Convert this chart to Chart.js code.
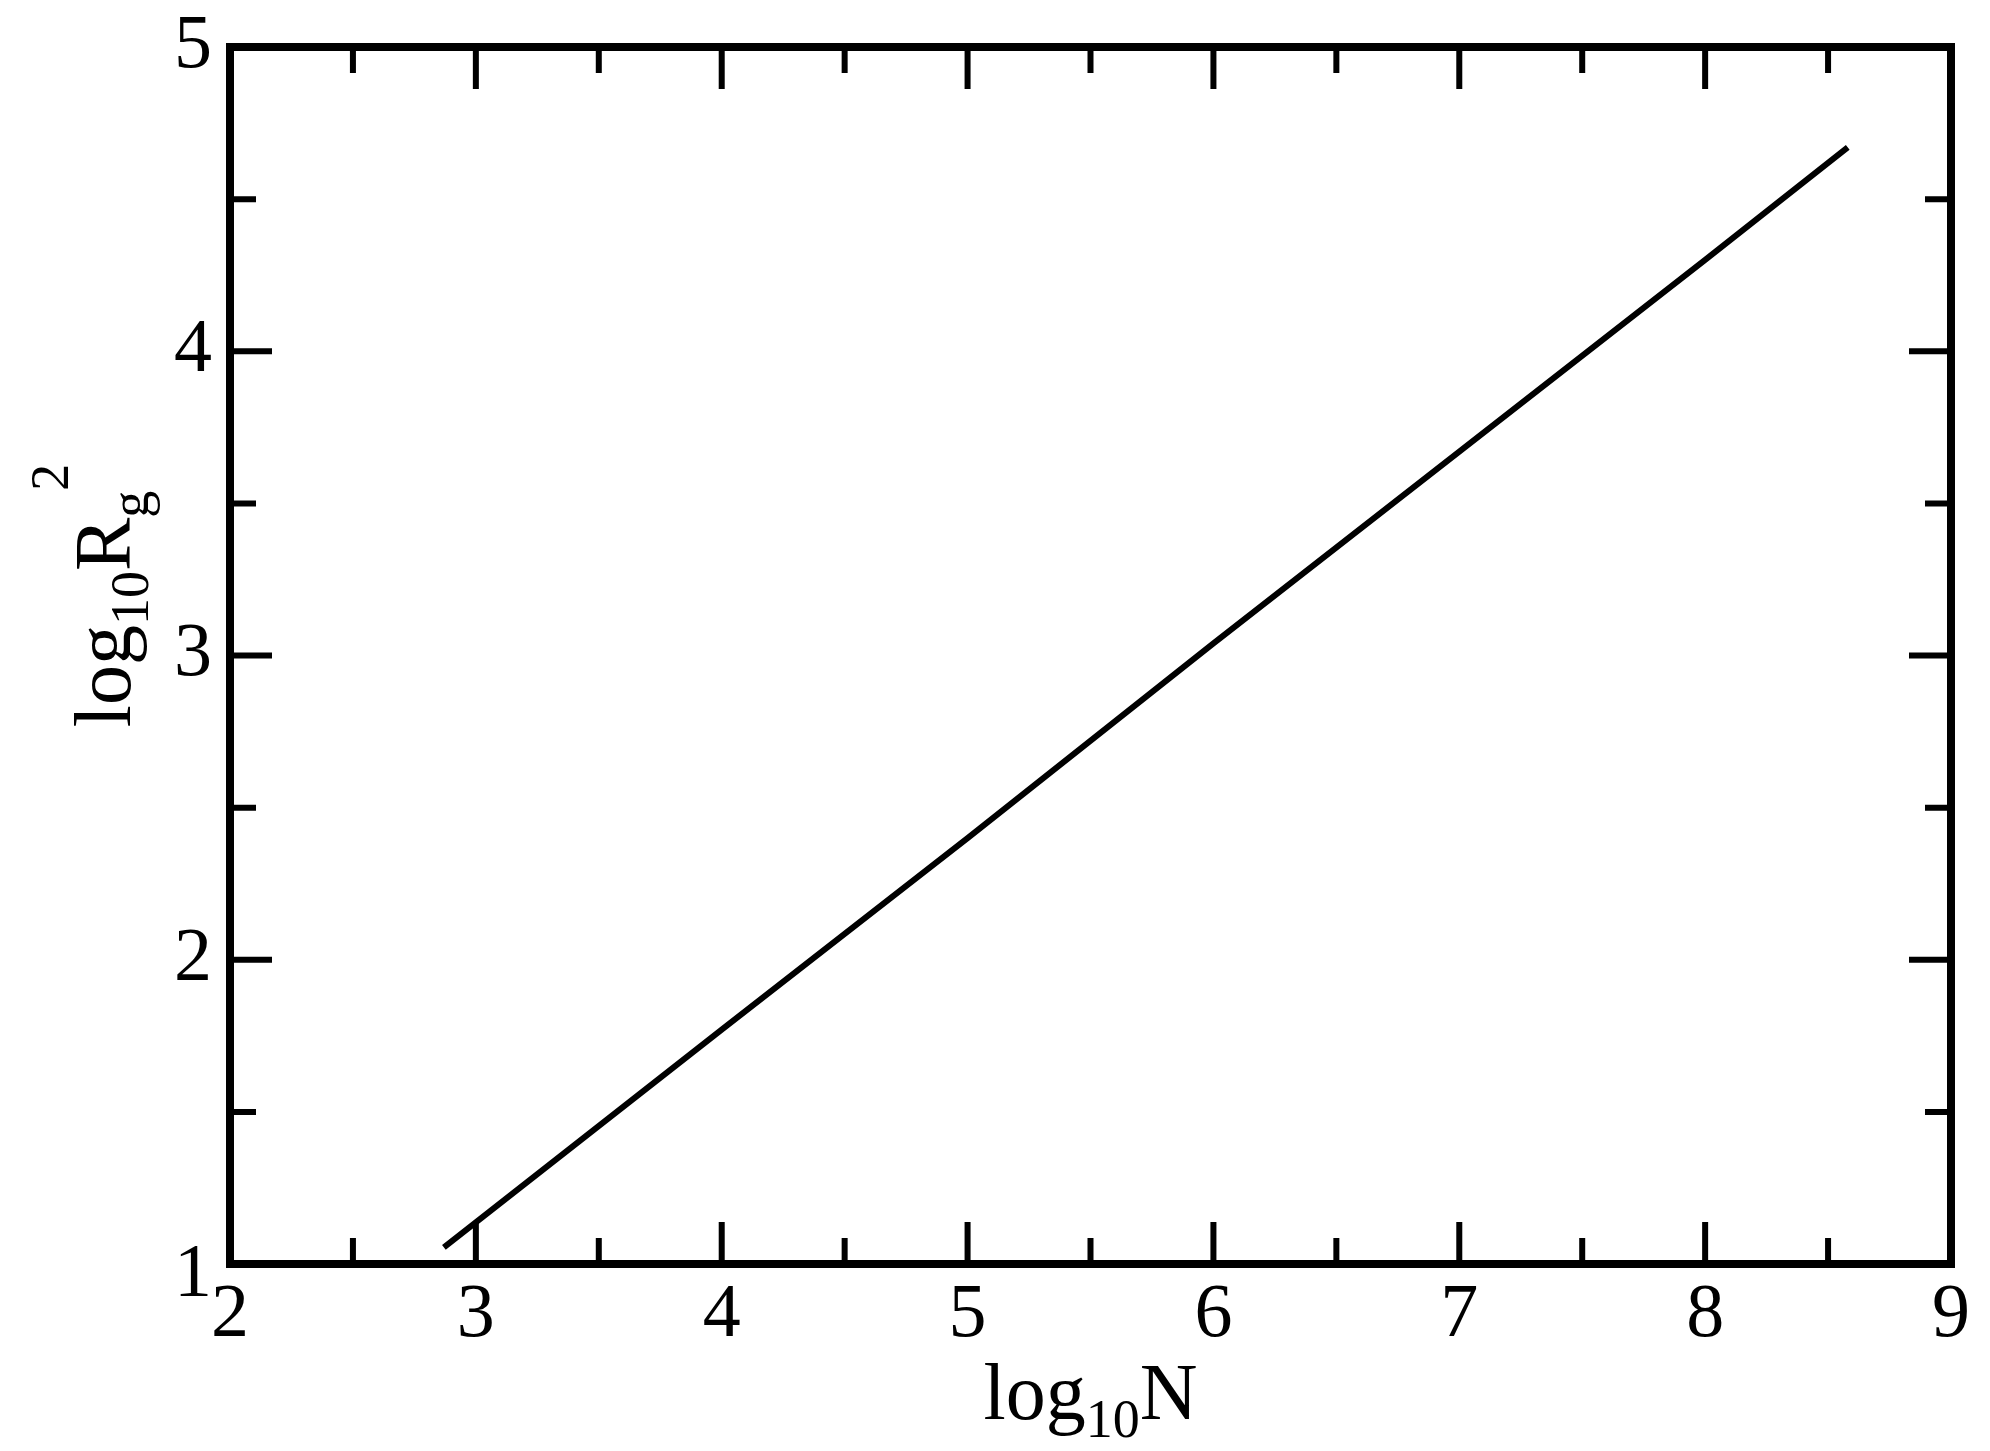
<!DOCTYPE html>
<html>
<head>
<meta charset="utf-8">
<script src="https://cdn.jsdelivr.net/npm/chart.js@4"></script>
<style>
  html, body { margin: 0; padding: 0; background: #fff; }
  #wrap { width: 1990px; height: 1451px; }
</style>
</head>
<body>
<div id="wrap"><canvas id="chart"></canvas></div>
<script>
const xValues = [2.87, 4, 5, 6, 7, 8, 8.58];
const yValues = [1.055, 1.77, 2.40, 3.04, 3.67, 4.30, 4.67];
const xTicks = [2, 3, 4, 5, 6, 7, 8, 9];
const yTicks = [1, 2, 3, 4, 5];
const xMinor = [2.5, 3.5, 4.5, 5.5, 6.5, 7.5, 8.5];
const yMinor = [1.5, 2.5, 3.5, 4.5];

const serif = '"Liberation Serif", "DejaVu Serif", serif';

// frame, inward ticks, labels and titles in xmgrace style
const framePlugin = {
  id: 'frame',
  afterDraw(chart) {
    const ctx = chart.ctx;
    const a = chart.chartArea;
    const xs = chart.scales.x, ys = chart.scales.y;
    ctx.save();
    ctx.strokeStyle = '#000';
    ctx.lineCap = 'butt';
    ctx.lineWidth = 6;
    const tick = (v, len, isX) => {
      ctx.beginPath();
      if (isX) {
        const p = xs.getPixelForValue(v);
        ctx.moveTo(p, a.bottom); ctx.lineTo(p, a.bottom - len);
        ctx.moveTo(p, a.top); ctx.lineTo(p, a.top + len);
      } else {
        const p = ys.getPixelForValue(v);
        ctx.moveTo(a.left, p); ctx.lineTo(a.left + len, p);
        ctx.moveTo(a.right, p); ctx.lineTo(a.right - len, p);
      }
      ctx.stroke();
    };
    xTicks.forEach(v => tick(v, 42, true));
    xMinor.forEach(v => tick(v, 26, true));
    yTicks.forEach(v => tick(v, 42, false));
    yMinor.forEach(v => tick(v, 26, false));
    ctx.lineWidth = 8;
    ctx.strokeRect(a.left, a.top, a.right - a.left, a.bottom - a.top);

    ctx.fillStyle = '#000';
    ctx.font = '76px ' + serif;
    ctx.textAlign = 'center';
    ctx.textBaseline = 'top';
    xTicks.forEach(v => ctx.fillText(String(v), xs.getPixelForValue(v), a.bottom + 14));
    ctx.textAlign = 'right';
    ctx.textBaseline = 'middle';
    yTicks.forEach(v => {
      const off = v === yTicks[0] ? 12 : 0;
      ctx.fillText(String(v), a.left - 18, ys.getPixelForValue(v) + off);
    });

    // x title: log10N
    const drawParts = (parts, x, y) => {
      let w = 0;
      parts.forEach(p => { ctx.font = p.size + 'px ' + serif; w += ctx.measureText(p.t).width; });
      let cx = x - w / 2;
      ctx.textAlign = 'left';
      ctx.textBaseline = 'alphabetic';
      parts.forEach(p => {
        ctx.font = p.size + 'px ' + serif;
        ctx.fillText(p.t, cx, y + p.dy);
        cx += ctx.measureText(p.t).width;
      });
    };
    drawParts([
      { t: 'log', size: 80, dy: 0 },
      { t: '10', size: 54, dy: 18 },
      { t: 'N', size: 80, dy: 0 }
    ], (a.left + a.right) / 2, a.bottom + 155);

    ctx.save();
    ctx.translate(130, (a.top + a.bottom) / 2 - 60);
    ctx.rotate(-Math.PI / 2);
    drawParts([
      { t: 'log', size: 80, dy: 0 },
      { t: '10', size: 54, dy: 18 },
      { t: 'R', size: 80, dy: 0 },
      { t: 'g', size: 54, dy: 18 },
      { t: '2', size: 54, dy: -62 }
    ], 0, 0);
    ctx.restore();
    ctx.restore();
  }
};

new Chart(document.getElementById('chart'), {
  type: 'scatter',
  data: {
    datasets: [{
      data: xValues.map((x, i) => ({ x: x, y: yValues[i] })),
      showLine: true,
      borderColor: '#000',
      borderWidth: 6,
      pointRadius: 0,
      fill: false,
      tension: 0
    }]
  },
  options: {
    responsive: true,
    maintainAspectRatio: false,
    animation: false,
    layout: { padding: { left: 222, right: 39, top: 47, bottom: 179 } },
    plugins: { legend: { display: false }, tooltip: { enabled: false } },
    scales: {
      x: {
        type: 'linear', min: 2, max: 9,
        display: true,
        grid: { display: false }, border: { display: false },
        ticks: { display: false }
      },
      y: {
        type: 'linear', min: 1, max: 5,
        display: true,
        grid: { display: false }, border: { display: false },
        ticks: { display: false }
      }
    }
  },
  plugins: [framePlugin]
});
</script>
</body>
</html>
